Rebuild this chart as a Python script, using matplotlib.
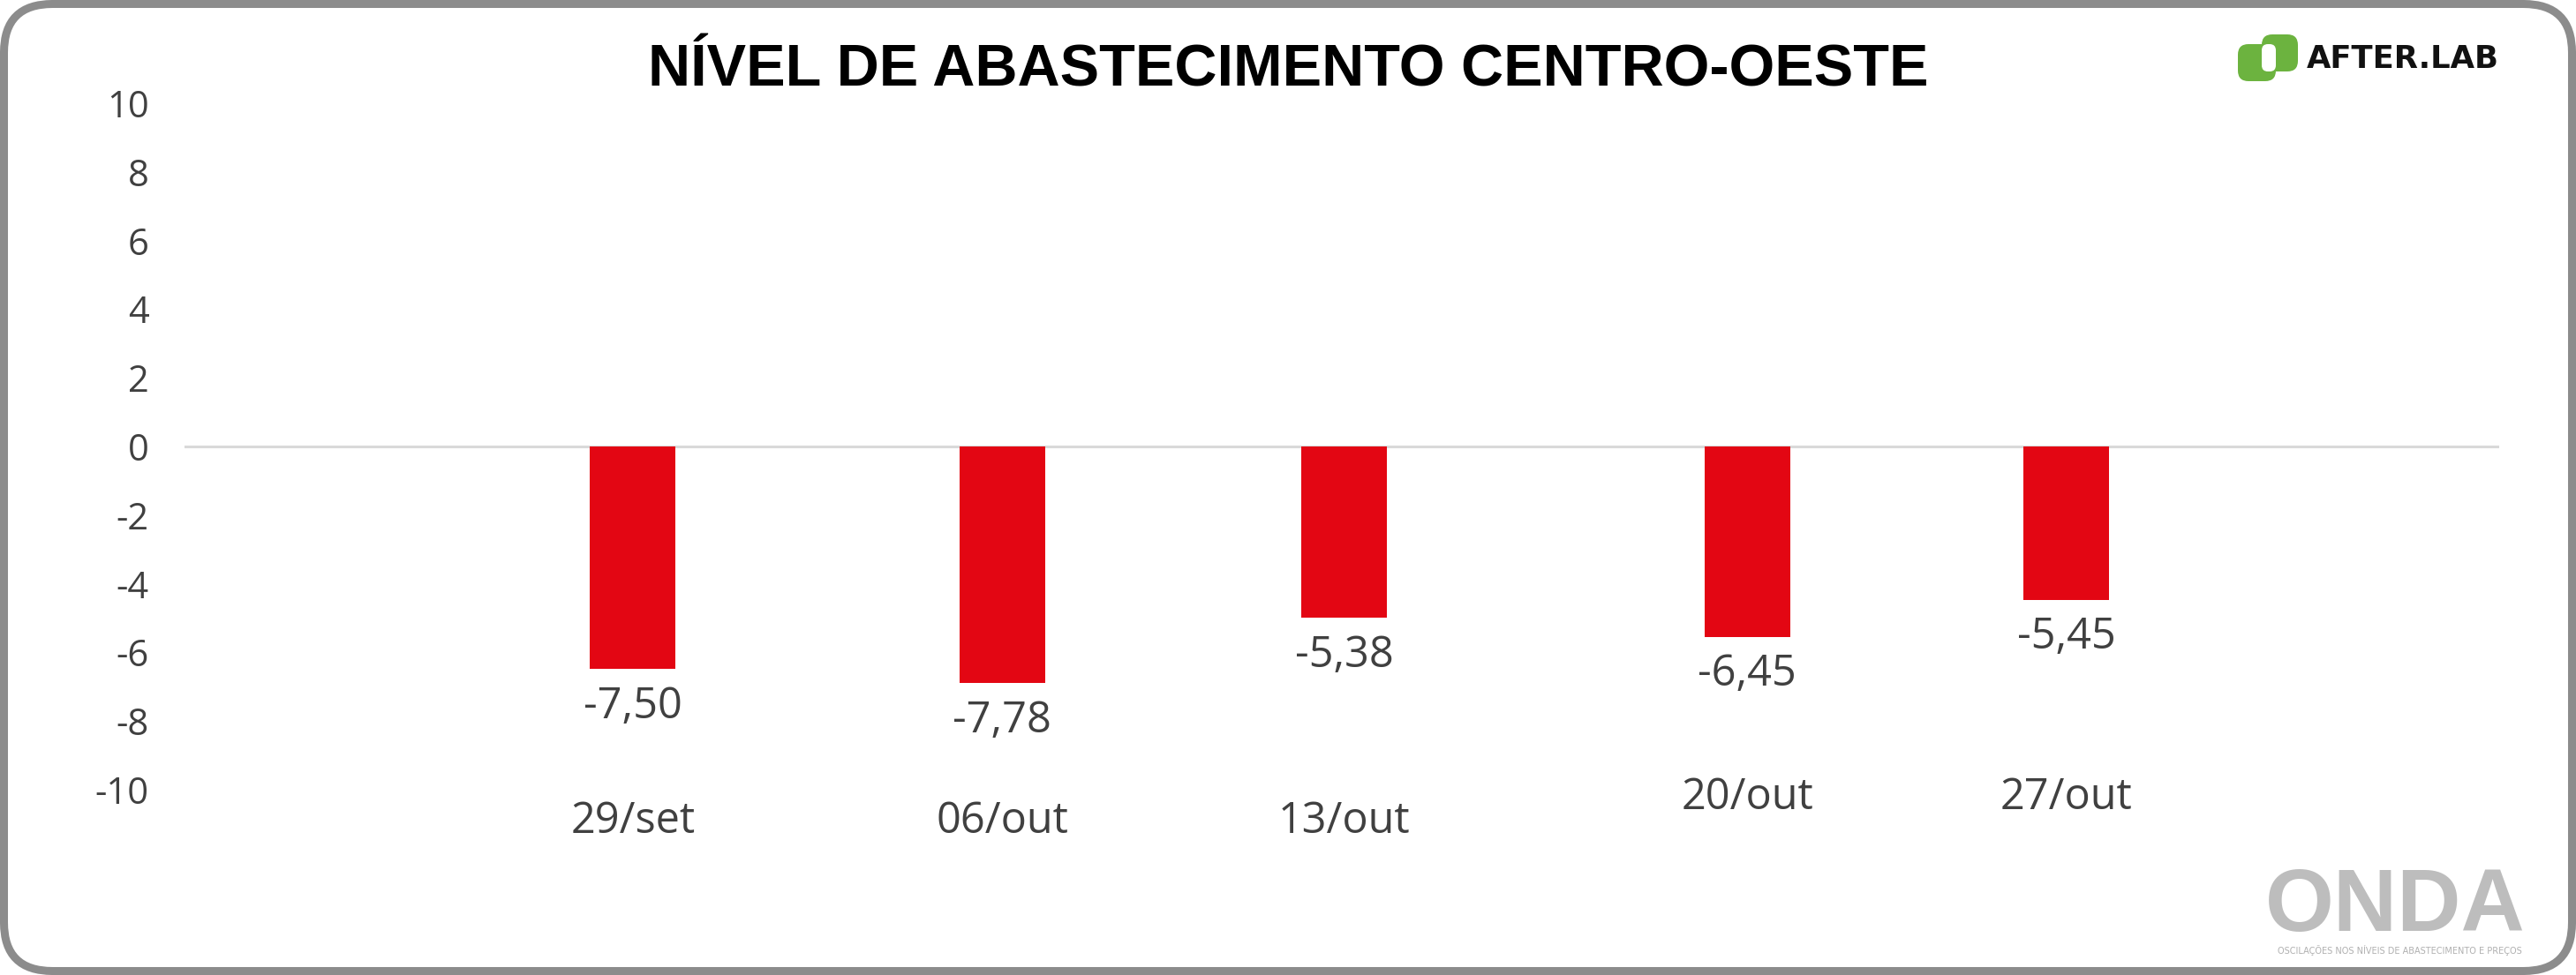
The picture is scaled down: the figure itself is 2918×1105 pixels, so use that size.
"""
plot.py
=======
Nível de abastecimento Centro-Oeste: weekly bar chart with the
AFTER.LAB / ONDA branding frame.

Output: out.png (2918 x 1105 px)
"""

import matplotlib
matplotlib.use("Agg")
import matplotlib.pyplot as plt
from matplotlib.patches import FancyBboxPatch


# ── Data ─────────────────────────────────────────────────────────────────────

DATES = ["29/set", "06/out", "13/out", "20/out", "27/out"]
# bar lengths as they are drawn in the original chart
BAR_VALUES = [-6.48, -6.89, -4.99, -5.55, -4.47]
# the printed data labels (they do not match the bar lengths in the source)
VALUE_LABELS = ["-7,50", "-7,78", "-5,38", "-6,45", "-5,45"]
Y_TICKS = [10, 8, 6, 4, 2, 0, -2, -4, -6, -8, -10]

TITLE = "NÍVEL DE ABASTECIMENTO CENTRO-OESTE"
BRAND_TOP = "AFTER.LAB"
BRAND_BOTTOM = "ONDA"
BRAND_TAGLINE = "OSCILAÇÕES NOS NÍVEIS DE ABASTECIMENTO E PREÇOS"


# ── Styling / layout ─────────────────────────────────────────────────────────

W, H = 2918, 1105
BAR_COLOR = "#e30613"
TEXT_COLOR = "#404040"
ZERO_COLOR = "#d9d9d9"
FRAME_COLOR = "#8c8c8c"
LOGO_GREEN = "#6cb33f"
ONDA_GREY = "#bdbdbd"

NUM_FONT = ["Open Sans", "DejaVu Sans"]
BOLD_FONT = ["Liberation Sans", "DejaVu Sans"]

# the source spaces the weeks unevenly; x is a 0..1 position along the axis
BAR_X = [0.1937, 0.3532, 0.5011, 0.6751, 0.8131]
BAR_WIDTH = 0.037
# baseline of the date labels (the last two sit higher in the source)
DATE_BASELINE = [-11.25, -11.25, -11.25, -10.57, -10.57]


def px_axes(fig, left, top, right, bottom):
    return fig.add_axes([left / W, 1 - bottom / H, (right - left) / W, (bottom - top) / H])


def draw_frame(bg):
    bg.add_patch(FancyBboxPatch((4.5, 4.5), W - 9, H - 9,
                                boxstyle="round,pad=0,rounding_size=55",
                                facecolor="white", edgecolor=FRAME_COLOR, linewidth=6.5))


def draw_afterlab_logo(bg):
    bg.add_patch(FancyBboxPatch((2535, 50), 43, 42, boxstyle="round,pad=0,rounding_size=12",
                                facecolor=LOGO_GREEN, edgecolor="none"))
    bg.add_patch(FancyBboxPatch((2562, 39), 41, 42, boxstyle="round,pad=0,rounding_size=12",
                                facecolor=LOGO_GREEN, edgecolor="none"))
    bg.add_patch(FancyBboxPatch((2562, 50), 16, 31, boxstyle="round,pad=0,rounding_size=7",
                                facecolor="white", edgecolor="none"))
    bg.text(2613, 77, BRAND_TOP, ha="left", va="baseline", fontsize=25.5,
            fontweight="bold", family="DejaVu Sans", color="#111111")


def draw_onda_logo(bg):
    bg.text(2566, 1055, BRAND_BOTTOM, ha="left", va="baseline", fontsize=72,
            fontweight="bold", family=BOLD_FONT, color=ONDA_GREY)
    bg.text(2718, 1077, BRAND_TAGLINE, ha="center", va="center", fontsize=7,
            family="DejaVu Sans", color="#b0b0b0")


def main():
    fig = plt.figure(figsize=(W / 100, H / 100), dpi=100)

    bg = fig.add_axes([0, 0, 1, 1])
    bg.set_xlim(0, W)
    bg.set_ylim(H, 0)
    bg.axis("off")
    draw_frame(bg)
    draw_afterlab_logo(bg)
    draw_onda_logo(bg)

    fig.text(0.5, 1 - 97 / H, TITLE, ha="center", va="baseline", fontsize=48,
             fontweight="bold", family=BOLD_FONT, color="black")

    ax = px_axes(fig, 209, 117, 2831, 895)
    ax.patch.set_alpha(0)
    ax.axhline(0, color=ZERO_COLOR, linewidth=2.2, zorder=1)
    ax.bar(BAR_X, BAR_VALUES, width=BAR_WIDTH, color=BAR_COLOR, zorder=2)

    for x, v, lab in zip(BAR_X, BAR_VALUES, VALUE_LABELS):
        ax.annotate(lab, (x, v), xytext=(0, -40), textcoords="offset points",
                    ha="center", va="baseline", fontsize=35, family=NUM_FONT,
                    color=TEXT_COLOR, annotation_clip=False)

    for x, yb, d in zip(BAR_X, DATE_BASELINE, DATES):
        ax.text(x, yb, d, ha="center", va="baseline", fontsize=35, family=NUM_FONT,
                color=TEXT_COLOR, clip_on=False)

    ax.set_xlim(0, 1)
    ax.set_ylim(-10, 10)
    ax.set_xticks([])
    ax.set_yticks(Y_TICKS)
    ax.set_yticklabels([str(t) for t in Y_TICKS], family=NUM_FONT, fontsize=30,
                       color=TEXT_COLOR)
    ax.tick_params(axis="y", length=0, pad=29)
    for s in ax.spines.values():
        s.set_visible(False)

    fig.savefig("out.png", dpi=100)
    plt.close(fig)


if __name__ == "__main__":
    main()
